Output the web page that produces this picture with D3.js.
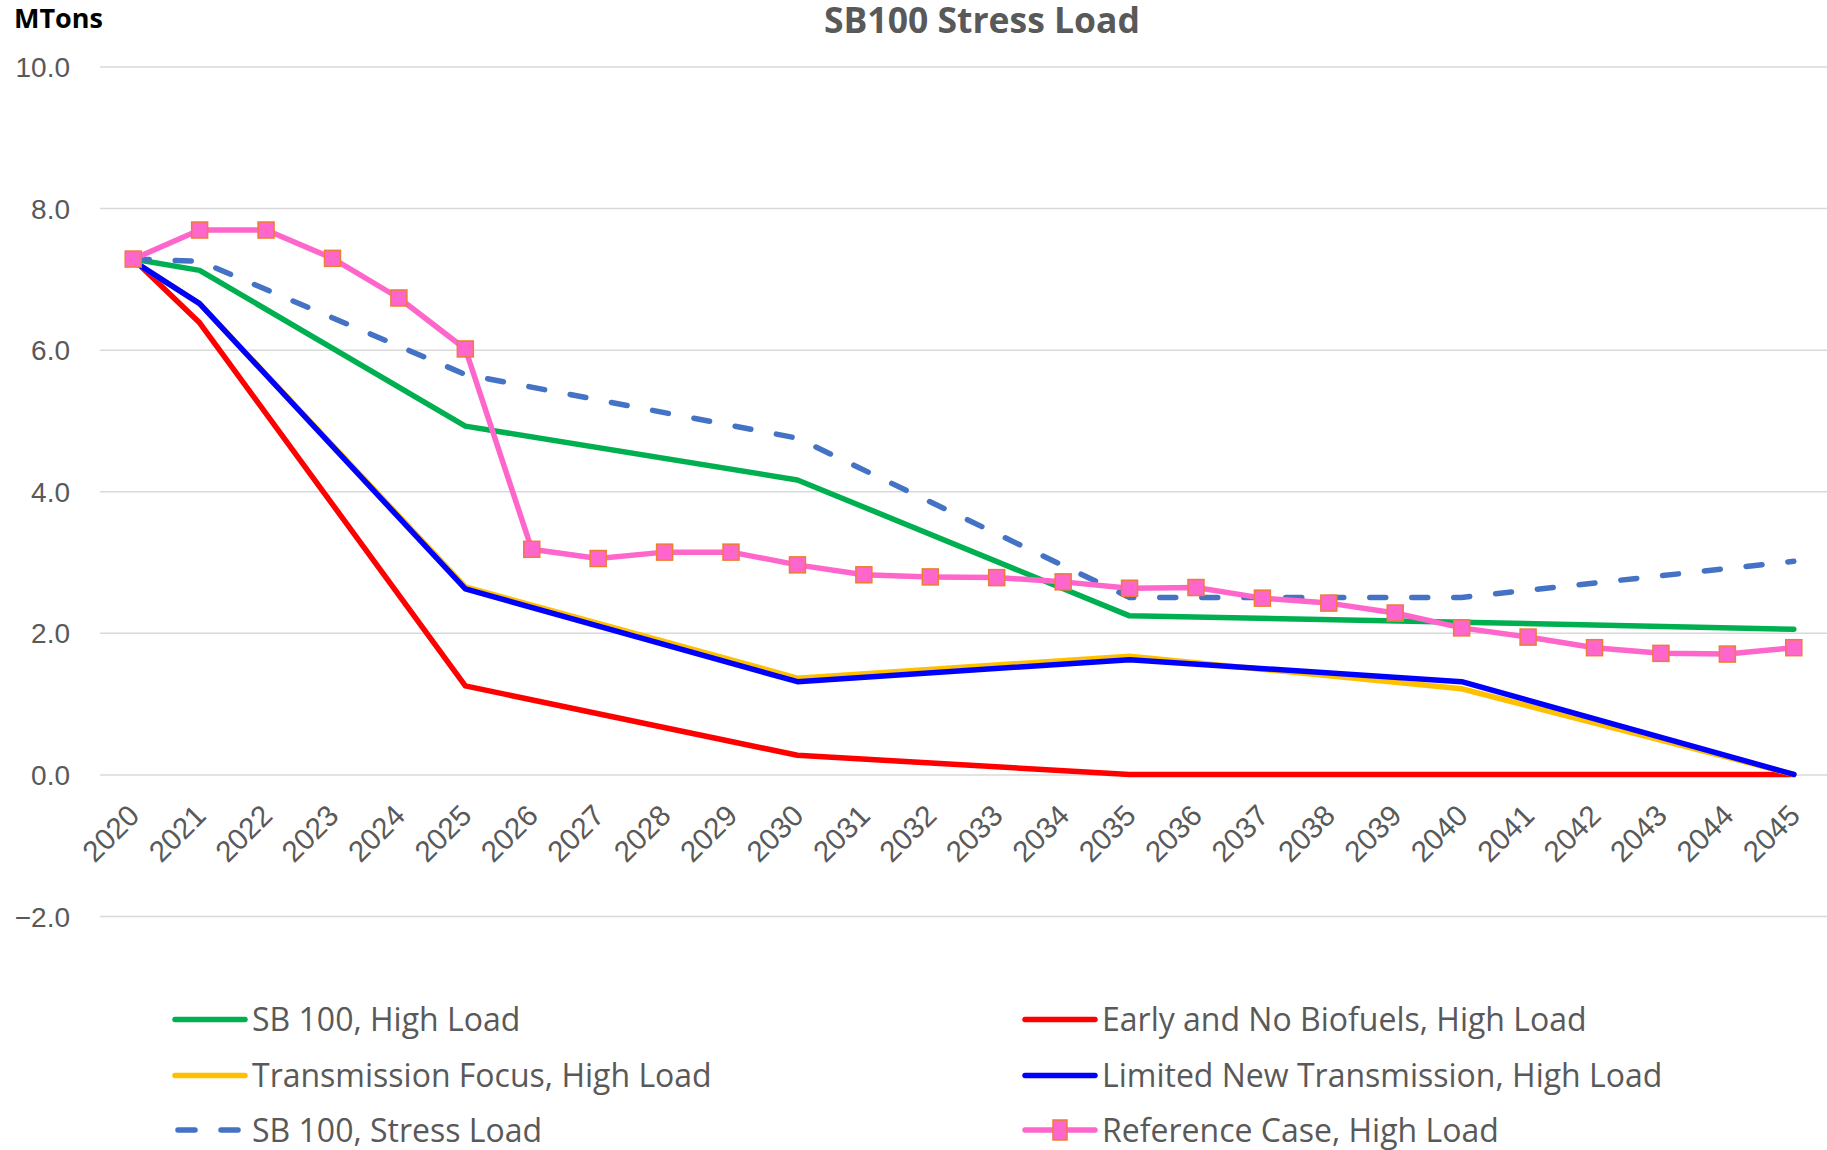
<!DOCTYPE html>
<html>
<head>
<meta charset="utf-8">
<script src="https://cdn.jsdelivr.net/npm/d3@7"></script>
<style>
  html, body { margin: 0; padding: 0; background: #fff; }
  svg { display: block; font-family: "Open Sans", "Noto Sans", sans-serif; }
</style>
</head>
<body>
<svg id="chart" width="1827" height="1150"></svg>
<script>
// ---- Data ----
const years = d3.range(2020, 2046).map(String);
const yTicks = [-2, 0, 2, 4, 6, 8, 10];

const sb100High      = [7.28, 7.12, null, null, null, 4.92, null, null, null, null, 4.16, null, null, null, null, 2.24, null, null, null, null, 2.15, null, null, null, null, 2.05];
const earlyNoBio     = [7.28, 6.38, null, null, null, 1.25, null, null, null, null, 0.27, null, null, null, null, 0.00, null, null, null, null, 0.00, null, null, null, null, 0.00];
const transFocus     = [7.25, 6.65, null, null, null, 2.65, null, null, null, null, 1.36, null, null, null, null, 1.67, null, null, null, null, 1.21, null, null, null, null, 0.00];
const limitedTx      = [7.25, 6.65, null, null, null, 2.62, null, null, null, null, 1.31, null, null, null, null, 1.62, null, null, null, null, 1.31, null, null, null, null, 0.00];
const sb100Stress    = [7.28, 7.25, null, null, null, 5.65, null, null, null, null, 4.75, null, null, null, null, 2.50, null, null, null, null, 2.50, null, null, null, null, 3.01];
const referenceCase  = [7.28, 7.69, 7.69, 7.29, 6.73, 6.01, 3.18, 3.05, 3.14, 3.14, 2.96, 2.82, 2.79, 2.78, 2.72, 2.63, 2.64, 2.49, 2.42, 2.28, 2.07, 1.94, 1.79, 1.71, 1.70, 1.79];

const seriesNames = [
  "SB 100, High Load",
  "Early and No Biofuels, High Load",
  "Transmission Focus, High Load",
  "Limited New Transmission, High Load",
  "SB 100, Stress Load",
  "Reference Case, High Load"
];
const seriesValues = [sb100High, earlyNoBio, transFocus, limitedTx, sb100Stress, referenceCase];
const seriesColors = ["#00B050", "#FF0000", "#FFC000", "#0000FF", "#4472C4", "#FF66CC"];
const seriesDashed = [false, false, false, false, true, false];
const seriesMarker = [false, false, false, false, false, true];

// ---- Layout ----
const svg = d3.select("#chart");
const plot = { left: 100, right: 1827, top: 66.5, bottom: 916 };
const textColor = "#595959";

const x = d3.scaleBand().domain(years).range([plot.left, plot.right]).paddingInner(0).paddingOuter(0);
const y = d3.scaleLinear().domain([-2, 10]).range([plot.bottom, plot.top]);
const cx = d => x(d) + x.bandwidth() / 2;

// Gridlines
const yAxis = d3.axisLeft(y).tickValues(yTicks).tickFormat(d3.format(".1f"))
  .tickSize(-(plot.right - plot.left)).tickPadding(30);
const gy = svg.append("g").attr("transform", `translate(${plot.left},0)`).call(yAxis);
gy.select(".domain").remove();
gy.selectAll(".tick line").attr("stroke", "#D9D9D9").attr("stroke-width", 1.5);
gy.selectAll(".tick text").attr("fill", textColor).style("font-size", "28px")
  .attr("x", -30).attr("dy", "0.36em");

// X axis labels
const xAxis = d3.axisBottom(x).tickSize(0).tickPadding(0);
const gx = svg.append("g").attr("transform", `translate(0,${y(0)})`).call(xAxis);
gx.select(".domain").remove();
gx.selectAll(".tick text")
  .attr("fill", textColor).style("font-size", "29.5px")
  .attr("text-anchor", "end")
  .attr("y", 0).attr("dy", 0)
  .attr("transform", "translate(8,43) rotate(-45)");

// Title and axis unit
svg.append("text").attr("x", 982).attr("y", 33).attr("text-anchor", "middle")
  .attr("fill", textColor).style("font-size", "35.5px").style("font-weight", "bold")
  .text("SB100 Stress Load");
svg.append("text").attr("x", 14).attr("y", 28)
  .attr("fill", "#000").style("font-size", "27px").style("font-weight", "bold")
  .text("MTons");

// Lines
const line = d3.line().x(d => cx(d.year)).y(d => y(d.v));
seriesValues.forEach((vals, i) => {
  const pts = years.map((yr, j) => ({ year: yr, v: vals[j] })).filter(d => d.v !== null);
  svg.append("path").datum(pts)
    .attr("d", line)
    .attr("fill", "none")
    .attr("stroke", seriesColors[i])
    .attr("stroke-width", 5.5)
    .attr("stroke-linejoin", "round")
    .attr("stroke-linecap", "round")
    .attr("stroke-dasharray", seriesDashed[i] ? "16,26" : null);
  if (seriesMarker[i]) {
    const ms = 16;
    svg.append("g").selectAll("rect").data(pts).join("rect")
      .attr("x", d => cx(d.year) - ms / 2)
      .attr("y", d => y(d.v) - ms / 2)
      .attr("width", ms).attr("height", ms)
      .attr("fill", "#FF66CC").attr("stroke", "#ED7D31").attr("stroke-width", 1.5);
  }
});

// Legend
const legendCols = [175, 1025];
const legendRows = [1019.5, 1075.5, 1130];
seriesNames.forEach((name, i) => {
  const lx = legendCols[i % 2];
  const ly = legendRows[Math.floor(i / 2)];
  const g = svg.append("g");
  if (seriesDashed[i]) {
    g.append("line").attr("x1", lx + 3).attr("x2", lx + 64).attr("y1", ly).attr("y2", ly)
      .attr("stroke", seriesColors[i]).attr("stroke-width", 5.5).attr("stroke-linecap", "round")
      .attr("stroke-dasharray", "17,26");
  } else {
    g.append("line").attr("x1", lx).attr("x2", lx + 70).attr("y1", ly).attr("y2", ly)
      .attr("stroke", seriesColors[i]).attr("stroke-width", 5.5).attr("stroke-linecap", "round");
  }
  if (seriesMarker[i]) {
    g.append("rect").attr("x", lx + 35 - 7).attr("y", ly - 10)
      .attr("width", 14).attr("height", 20)
      .attr("fill", "#FF66CC").attr("stroke", "#ED7D31").attr("stroke-width", 1.5);
  }
  g.append("text").attr("x", lx + 77).attr("y", ly).attr("dy", "0.36em")
    .attr("fill", textColor).style("font-size", "32px").text(name);
});
</script>
</body>
</html>
